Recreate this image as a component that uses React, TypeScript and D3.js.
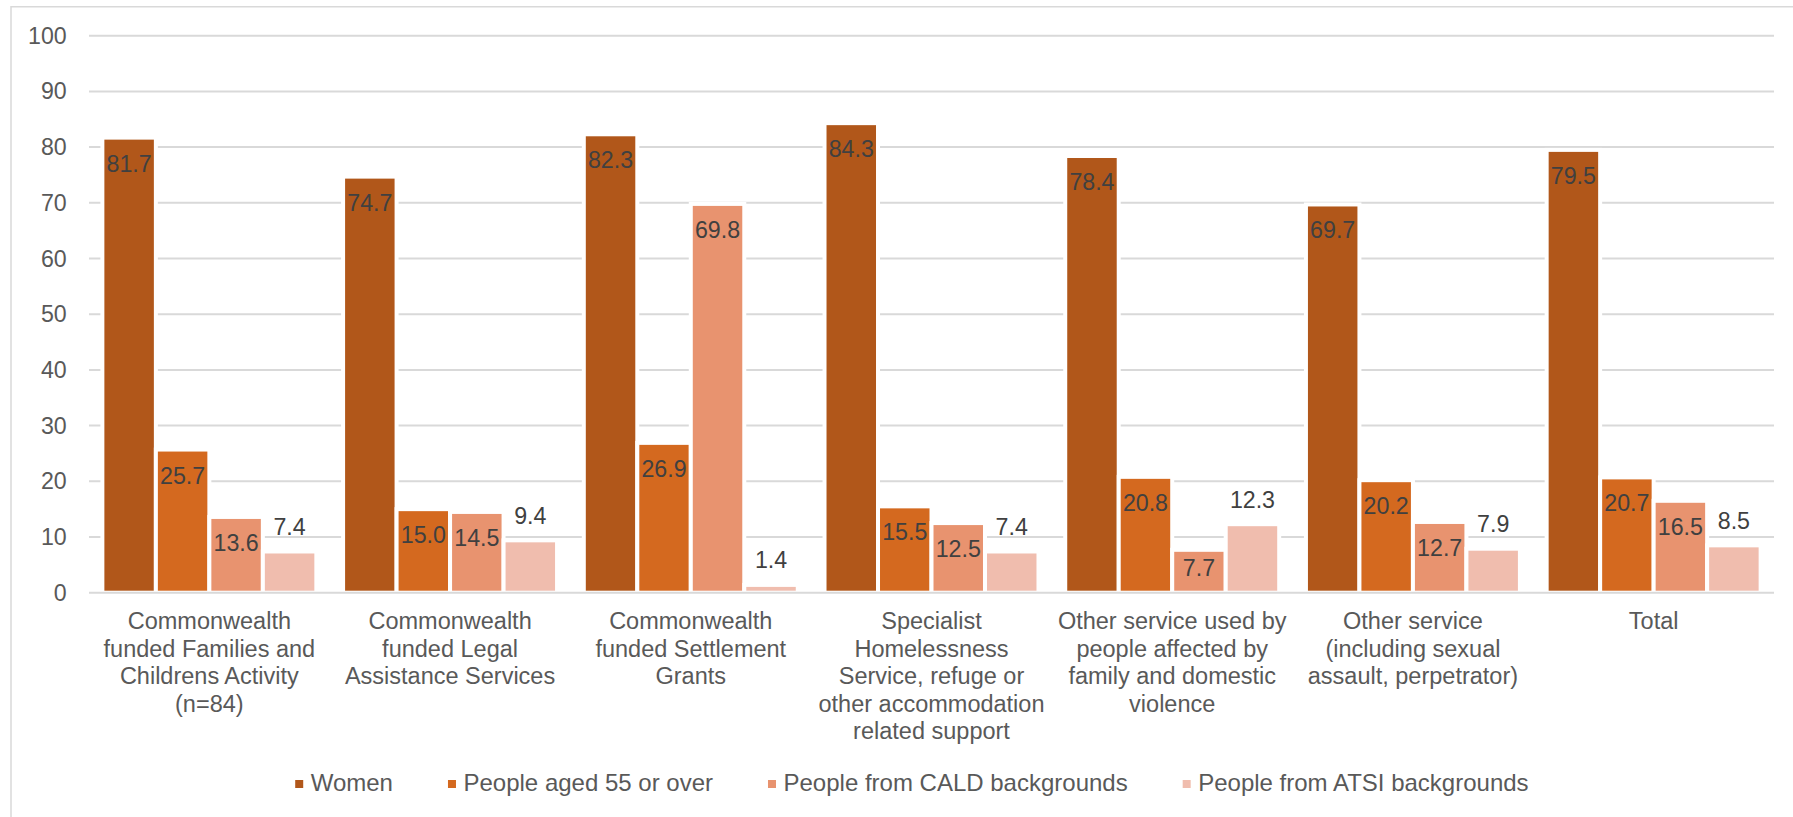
import React, { useEffect, useRef } from "react";
import * as d3 from "d3";

const categories: string[][] = [
  ["Commonwealth", "funded Families and", "Childrens Activity", "(n=84)"],
  ["Commonwealth", "funded Legal", "Assistance Services"],
  ["Commonwealth", "funded Settlement", "Grants"],
  ["Specialist", "Homelessness", "Service, refuge or", "other accommodation", "related support"],
  ["Other service used by", "people affected by", "family and domestic", "violence"],
  ["Other service", "(including sexual", "assault, perpetrator)"],
  ["Total"],
];

const seriesNames = [
  "Women",
  "People aged 55 or over",
  "People from CALD backgrounds",
  "People from ATSI backgrounds",
];

const women = [81.7, 74.7, 82.3, 84.3, 78.4, 69.7, 79.5];
const aged55 = [25.7, 15.0, 26.9, 15.5, 20.8, 20.2, 20.7];
const cald = [13.6, 14.5, 69.8, 12.5, 7.7, 12.7, 16.5];
const atsi = [7.4, 9.4, 1.4, 7.4, 12.3, 7.9, 8.5];

const yTicks = [0, 10, 20, 30, 40, 50, 60, 70, 80, 90, 100];

const colors = ["#B1571A", "#D4691F", "#E8936F", "#F0BDAE"];
const labelOutside = [false, false, false, true];

const W = 1793;
const H = 817;
const FONT = "'Liberation Sans', Arial, Helvetica, sans-serif";

export default function App() {
  const ref = useRef<SVGSVGElement | null>(null);

  useEffect(() => {
    const svg = d3.select(ref.current);
    svg.selectAll("*").remove();

    const values = [women, aged55, cald, atsi];
    const catIdx = categories.map((_, i) => String(i));

    const x = d3.scaleBand<string>().domain(catIdx).range([89, 1774]).padding(0);
    const xs = d3
      .scaleBand<string>()
      .domain(seriesNames)
      .range([0, x.bandwidth()])
      .paddingInner(0)
      .paddingOuter(0.25);
    const y = d3.scaleLinear().domain([0, 100]).range([592.7, 35.7]);

    // frame
    svg
      .append("path")
      .attr("d", `M11,${H + 10} V6.7 H${W + 10}`)
      .attr("fill", "none")
      .attr("stroke", "#d9d9d9")
      .attr("stroke-width", 1.5);

    // gridlines
    svg
      .append("g")
      .selectAll("line")
      .data(yTicks.filter((t) => t !== 0))
      .join("line")
      .attr("x1", 89)
      .attr("x2", 1774)
      .attr("y1", (d) => y(d))
      .attr("y2", (d) => y(d))
      .attr("stroke", "#d9d9d9")
      .attr("stroke-width", 2);

    // y tick labels
    svg
      .append("g")
      .selectAll("text")
      .data(yTicks)
      .join("text")
      .attr("x", 66.7)
      .attr("y", (d) => y(d) + 8)
      .attr("text-anchor", "end")
      .attr("font-family", FONT)
      .attr("font-size", 23.2)
      .attr("fill", "#595959")
      .text((d) => String(d));

    // bars
    const gBars = svg.append("g");
    values.forEach((vals, si) => {
      gBars
        .append("g")
        .selectAll("rect")
        .data(vals)
        .join("rect")
        .attr("x", (_, i) => (x(String(i)) as number) + (xs(seriesNames[si]) as number))
        .attr("width", xs.bandwidth())
        .attr("y", (d) => y(d))
        .attr("height", (d) => y(0) - y(d))
        .attr("fill", colors[si])
        .attr("stroke", "#ffffff")
        .attr("stroke-width", 4);
    });

    // axis line
    svg
      .append("line")
      .attr("x1", 89)
      .attr("x2", 1774)
      .attr("y1", y(0))
      .attr("y2", y(0))
      .attr("stroke", "#d9d9d9")
      .attr("stroke-width", 2);

    // data labels
    const gLab = svg.append("g");
    values.forEach((vals, si) => {
      gLab
        .append("g")
        .selectAll("text")
        .data(vals)
        .join("text")
        .attr("x", (_, i) => (x(String(i)) as number) + (xs(seriesNames[si]) as number) + xs.bandwidth() / 2)
        .attr("y", (d) =>
          labelOutside[si] ? y(d) - 16.5 : Math.min(y(d) + 34, y(0) - 16.7)
        )
        .attr("text-anchor", "middle")
        .attr("font-family", FONT)
        .attr("font-size", 23.2)
        .attr("fill", "#404040")
        .text((d) => d.toFixed(1));
    });

    // category labels
    const gCat = svg.append("g");
    categories.forEach((lines, i) => {
      const cx = (x(String(i)) as number) + x.bandwidth() / 2;
      const t = gCat
        .append("text")
        .attr("text-anchor", "middle")
        .attr("font-family", FONT)
        .attr("font-size", 23.5)
        .attr("fill", "#595959");
      lines.forEach((ln, k) => {
        t.append("tspan").attr("x", cx).attr("y", 629.3 + k * 27.5).text(ln);
      });
    });

    // legend
    const gLeg = svg.append("g");
    const items: { g: any; w: number }[] = [];
    seriesNames.forEach((name, si) => {
      const g = gLeg.append("g");
      g.append("rect")
        .attr("x", 0)
        .attr("y", 780)
        .attr("width", 8)
        .attr("height", 8)
        .attr("fill", colors[si]);
      const t = g
        .append("text")
        .attr("x", 15.5)
        .attr("y", 790.7)
        .attr("font-family", FONT)
        .attr("font-size", 24)
        .attr("fill", "#595959")
        .text(name);
      const tw = (t.node() as SVGTextElement).getComputedTextLength();
      items.push({ g, w: 15.5 + tw });
    });
    const gap = 55;
    const total = items.reduce((a, b) => a + b.w, 0) + gap * (items.length - 1);
    let cur = 911.9 - total / 2;
    items.forEach((it) => {
      it.g.attr("transform", `translate(${cur},0)`);
      cur += it.w + gap;
    });
  }, []);

  return (
    <svg
      ref={ref}
      width={W}
      height={H}
      style={{ position: "absolute", left: 0, top: 0, background: "#ffffff" }}
    />
  );
}
